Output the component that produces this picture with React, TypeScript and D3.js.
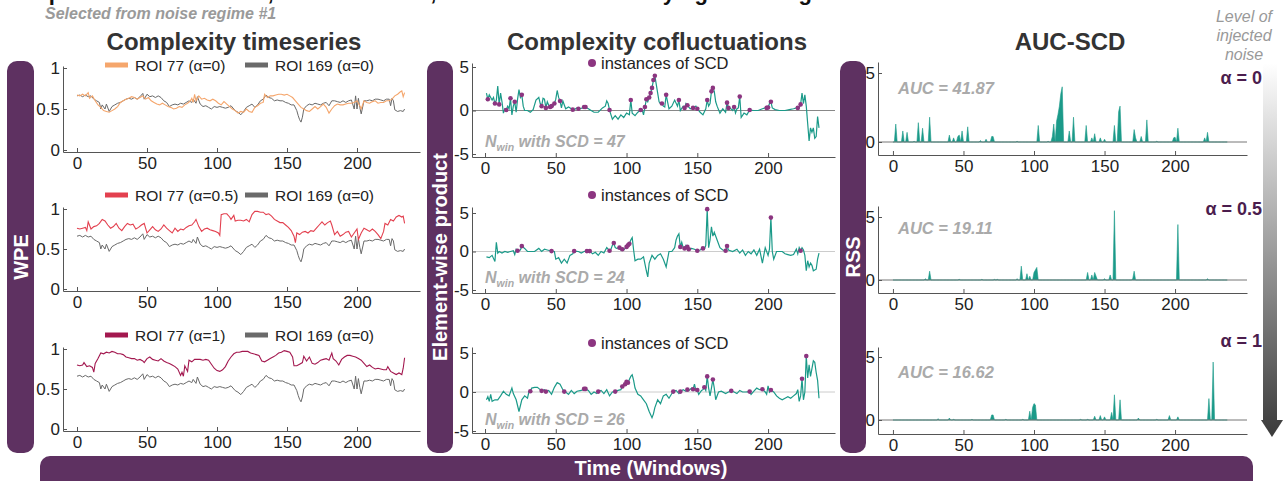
import * as d3 from "d3";
import { useEffect, useRef } from "react";

type Pt = [number, number];

// ---- data (window, value) ----
const roi169: Pt[] = [[0,0.66],[2,0.67],[4,0.65],[6,0.67],[8,0.65],[10,0.66],[12,0.62],[14,0.6],[16,0.58],[17,0.5],[18,0.55],[20,0.5],[21,0.56],[23,0.47],[25,0.53],[27,0.55],[29,0.57],[31,0.58],[33,0.6],[35,0.62],[37,0.63],[39,0.62],[41,0.64],[43,0.62],[45,0.65],[47,0.69],[48,0.62],[50,0.68],[52,0.65],[54,0.66],[56,0.64],[58,0.66],[60,0.64],[62,0.6],[64,0.58],[66,0.53],[68,0.55],[70,0.56],[72,0.55],[74,0.57],[76,0.56],[78,0.58],[80,0.6],[82,0.58],[83,0.62],[85,0.57],[86,0.65],[88,0.56],[90,0.53],[92,0.54],[94,0.52],[96,0.5],[98,0.53],[100,0.52],[102,0.53],[104,0.52],[106,0.51],[108,0.52],[110,0.54],[112,0.5],[113,0.48],[115,0.46],[117,0.43],[119,0.47],[121,0.52],[123,0.54],[125,0.56],[127,0.52],[129,0.55],[131,0.6],[133,0.62],[135,0.67],[137,0.64],[139,0.63],[141,0.6],[143,0.61],[145,0.6],[147,0.6],[149,0.58],[151,0.57],[153,0.55],[155,0.55],[157,0.48],[158,0.42],[159,0.37],[160,0.34],[161,0.4],[162,0.5],[164,0.54],[166,0.56],[168,0.55],[170,0.57],[172,0.56],[174,0.55],[176,0.57],[178,0.58],[180,0.54],[182,0.6],[184,0.6],[186,0.59],[188,0.58],[190,0.6],[192,0.58],[194,0.6],[196,0.61],[198,0.5],[199,0.66],[200,0.5],[201,0.63],[202,0.52],[203,0.44],[205,0.6],[207,0.6],[209,0.61],[211,0.6],[213,0.62],[215,0.62],[217,0.61],[219,0.6],[221,0.62],[223,0.62],[224,0.54],[225,0.63],[226,0.6],[227,0.49],[229,0.47],[231,0.48],[233,0.47],[234,0.5]];

const roi77a0: Pt[] = [[0,0.67],[2,0.66],[4,0.68],[6,0.66],[8,0.7],[9,0.63],[11,0.66],[13,0.6],[15,0.55],[17,0.52],[19,0.48],[21,0.47],[23,0.46],[25,0.48],[27,0.5],[29,0.53],[31,0.58],[33,0.6],[35,0.62],[37,0.63],[39,0.65],[41,0.64],[43,0.62],[45,0.64],[47,0.66],[49,0.62],[51,0.64],[53,0.6],[55,0.58],[57,0.56],[59,0.55],[61,0.57],[63,0.55],[65,0.53],[67,0.52],[69,0.5],[71,0.51],[73,0.53],[75,0.52],[77,0.55],[79,0.57],[81,0.6],[82,0.63],[83,0.58],[84,0.68],[85,0.6],[87,0.66],[89,0.62],[91,0.63],[93,0.61],[95,0.6],[97,0.62],[99,0.6],[101,0.57],[103,0.55],[105,0.59],[107,0.56],[109,0.53],[111,0.5],[113,0.48],[115,0.45],[117,0.47],[119,0.46],[121,0.5],[123,0.47],[125,0.46],[127,0.52],[129,0.54],[131,0.57],[133,0.58],[134,0.68],[136,0.64],[138,0.66],[140,0.66],[142,0.67],[144,0.68],[146,0.68],[148,0.67],[150,0.68],[152,0.66],[154,0.64],[156,0.6],[158,0.56],[160,0.52],[162,0.5],[164,0.48],[166,0.47],[168,0.5],[170,0.53],[172,0.5],[174,0.53],[176,0.56],[178,0.52],[180,0.45],[182,0.5],[184,0.54],[186,0.56],[188,0.55],[190,0.55],[192,0.56],[194,0.57],[196,0.57],[198,0.58],[200,0.6],[202,0.54],[203,0.5],[205,0.6],[207,0.58],[209,0.57],[211,0.59],[213,0.6],[215,0.57],[217,0.58],[219,0.58],[221,0.6],[223,0.6],[225,0.62],[227,0.66],[229,0.68],[231,0.71],[232,0.72],[233,0.65],[234,0.7]];

const roi77a05: Pt[] = [[0,0.76],[2,0.75],[4,0.76],[6,0.77],[7,0.73],[8,0.84],[10,0.75],[12,0.78],[14,0.79],[16,0.82],[18,0.87],[20,0.85],[22,0.8],[24,0.76],[26,0.78],[28,0.82],[30,0.76],[32,0.73],[34,0.78],[36,0.82],[38,0.8],[40,0.81],[42,0.75],[44,0.77],[46,0.8],[48,0.82],[50,0.7],[52,0.74],[54,0.78],[56,0.74],[58,0.72],[60,0.75],[62,0.8],[64,0.76],[66,0.73],[68,0.7],[70,0.76],[72,0.72],[74,0.75],[76,0.74],[78,0.77],[80,0.79],[82,0.8],[84,0.84],[85,0.87],[87,0.78],[89,0.72],[91,0.75],[93,0.76],[95,0.74],[97,0.73],[99,0.72],[101,0.7],[102,0.67],[103,0.93],[105,0.94],[107,0.94],[109,0.9],[110,0.87],[112,0.92],[113,0.85],[115,0.86],[117,0.86],[119,0.85],[121,0.87],[123,0.84],[125,0.93],[127,0.97],[129,0.97],[131,0.96],[133,0.96],[135,0.93],[137,0.94],[139,0.91],[141,0.87],[143,0.85],[145,0.83],[147,0.83],[149,0.8],[151,0.77],[153,0.73],[155,0.66],[156,0.58],[157,0.7],[159,0.68],[161,0.71],[163,0.72],[165,0.7],[167,0.73],[169,0.72],[171,0.76],[173,0.8],[175,0.84],[177,0.8],[179,0.83],[181,0.85],[182,0.8],[184,0.68],[186,0.72],[188,0.66],[190,0.68],[192,0.71],[194,0.72],[196,0.65],[198,0.7],[200,0.75],[201,0.62],[203,0.7],[205,0.76],[207,0.74],[209,0.72],[211,0.75],[213,0.72],[215,0.68],[217,0.63],[219,0.72],[220,0.82],[222,0.8],[224,0.87],[226,0.85],[228,0.9],[230,0.92],[232,0.9],[233,0.91],[234,0.82]];

const roi77a1: Pt[] = [[0,0.8],[2,0.79],[4,0.8],[5,0.83],[7,0.78],[9,0.79],[11,0.77],[12,0.71],[13,0.82],[15,0.88],[17,0.95],[19,0.94],[21,0.96],[23,0.95],[25,0.97],[27,0.96],[29,0.94],[31,0.94],[33,0.93],[35,0.9],[37,0.89],[39,0.88],[41,0.88],[43,0.86],[45,0.87],[47,0.85],[48,0.83],[50,0.88],[52,0.9],[54,0.87],[56,0.86],[58,0.85],[60,0.88],[62,0.85],[64,0.83],[66,0.82],[68,0.8],[70,0.78],[72,0.75],[74,0.67],[75,0.71],[76,0.66],[77,0.79],[79,0.72],[80,0.86],[82,0.84],[84,0.87],[86,0.87],[88,0.87],[90,0.86],[92,0.87],[94,0.86],[96,0.81],[98,0.76],[100,0.73],[102,0.72],[104,0.74],[106,0.78],[108,0.85],[110,0.9],[112,0.94],[114,0.96],[116,0.96],[118,0.97],[120,0.97],[122,0.97],[124,0.95],[126,0.94],[128,0.93],[130,0.92],[132,0.85],[134,0.84],[136,0.86],[138,0.88],[140,0.9],[142,0.92],[144,0.95],[146,0.96],[148,0.98],[150,0.97],[152,0.96],[154,0.9],[155,0.79],[157,0.79],[159,0.81],[161,0.83],[162,0.91],[164,0.85],[166,0.9],[168,0.82],[170,0.81],[172,0.83],[174,0.86],[176,0.87],[178,0.88],[180,0.86],[182,0.95],[183,0.88],[185,0.85],[187,0.8],[189,0.87],[191,0.9],[193,0.92],[195,0.92],[197,0.91],[199,0.9],[201,0.88],[203,0.86],[205,0.82],[207,0.78],[209,0.8],[211,0.77],[213,0.75],[215,0.76],[217,0.75],[219,0.74],[221,0.74],[222,0.78],[224,0.72],[226,0.7],[228,0.68],[230,0.7],[232,0.68],[233,0.76],[234,0.89]];

// element-wise product (points between SCD instances)
const prodA0: Pt[] = [[1,2.0],[3,1.8],[4,1.5],[5,1.2],[6,1.5],[8,1.2],[9,2.8],[11,2.0],[12,1.0],[13,-0.3],[14,0.2],[16,0.5],[17,0.2],[19,-0.5],[20,0.5],[22,-0.2],[23,1.3],[24,2.4],[25,1.5],[27,0.5],[28,0],[30,0],[32,-0.2],[34,0.1],[36,1.2],[38,1.5],[39,0.8],[41,1.4],[42,1.3],[44,1.0],[45,0.6],[48,0.5],[50,1.3],[51,2.3],[52,1.5],[54,0.3],[55,1.1],[57,0.2],[59,0.4],[61,0.2],[63,0.1],[65,0.3],[67,0.2],[69,0.3],[73,0.2],[75,0],[77,-0.2],[80,-0.2],[83,0.3],[85,0.5],[86,1.1],[87,0.8],[89,-0.5],[90,-1.0],[92,-0.6],[94,-1.0],[96,-0.5],[98,-0.8],[100,-0.3],[102,-0.5],[104,-0.3],[106,-0.6],[108,-0.2],[111,0.1],[112,-0.5],[115,1.0],[121,3.0],[122,2.0],[123,1.0],[124,0.8],[126,0.5],[127,0.4],[129,1.0],[130,0.2],[132,0.5],[134,1.2],[136,0.5],[138,0],[140,0.5],[142,0.8],[145,0.2],[149,0.5],[152,-0.2],[154,-0.5],[156,0.2],[158,0.5],[159,0.8],[162,2.2],[163,1.0],[164,0.5],[166,-0.3],[168,0.2],[170,-0.2],[173,0.3],[175,0],[177,-0.3],[178,0.2],[179,0.3],[181,-0.8],[183,-0.3],[185,-0.5],[190,0],[193,0],[196,0.2],[198,0.3],[201,0.8],[203,0.3],[205,0.1],[208,0],[212,0],[215,0.1],[218,0.2],[220,0.3],[222,0.3],[224,2.0],[225,0.8],[226,1.8],[227,0.5],[228,-1.5],[229,-3.5],[230,-2.0],[231,-2.5],[232,-2.0],[233,-3.2],[234,-3.0],[235,-0.7],[236,-2.0]];
const scdA0: Pt[] = [[2,1.3],[7,0.8],[10,0.7],[15,0.05],[18,1.4],[21,1.0],[26,1.8],[40,0.5],[43,0.3],[46,0.4],[47,0.5],[49,0.8],[53,1.1],[62,0.1],[66,0.2],[70,0.4],[71,0.4],[88,0.05],[103,1.2],[110,0.05],[113,0.4],[114,1.3],[116,1.5],[117,2.0],[118,2.6],[119,3.5],[120,4.0],[125,0.8],[128,1.8],[137,1.2],[141,0.3],[143,0.6],[147,0.3],[150,0.2],[157,1.2],[160,2.2],[161,2.6],[171,0.9],[172,0.3],[176,0.4],[180,1.6],[187,0.05],[199,0.3],[200,0.35],[202,1.0],[221,0.3],[223,0.7]];

const prodA05: Pt[] = [[1,-0.7],[3,-0.8],[5,-0.5],[7,-1.3],[8,1.2],[9,-0.2],[10,0],[12,-0.2],[14,0],[16,-0.1],[18,0],[20,0.1],[21,-0.4],[22,0.3],[25,0.2],[28,0.4],[30,0],[32,0],[35,0],[38,0.4],[40,0],[42,0.3],[44,0.2],[46,0.1],[49,0],[50,-1.0],[52,-0.8],[54,-1.5],[56,-1.0],[58,-1.5],[60,-0.5],[62,-0.3],[66,0],[68,-0.2],[70,0],[76,-0.3],[78,-0.1],[80,-0.5],[82,0],[84,-0.2],[86,0.5],[89,0.3],[90,0.8],[92,0.5],[93,0.4],[96,0.2],[98,0.2],[99,0.4],[103,1.5],[104,1.8],[105,0.2],[106,-1.2],[108,-1.0],[110,-1.0],[112,-0.7],[114,-2.5],[115,-3.3],[116,-1.5],[118,-0.5],[120,-1.0],[122,-0.5],[124,-0.3],[126,-1.0],[128,-2.0],[130,0],[132,0],[134,0.5],[135,1.5],[136,2.0],[137,2.3],[139,1.2],[140,0.5],[142,0.8],[146,0.4],[148,0.3],[152,0.2],[153,0.3],[155,0.3],[156,0.8],[158,0.5],[159,1.5],[160,3.2],[161,2.0],[162,2.5],[164,1.5],[166,0.5],[168,0.2],[172,0.2],[175,0],[178,0.3],[180,-0.2],[182,0.2],[184,-0.5],[186,0],[188,-0.3],[190,0.2],[192,-0.5],[194,0.3],[196,-1.5],[198,0.5],[200,-0.5],[201,0.3],[203,0],[204,-1.0],[206,0],[208,0],[210,0],[212,-0.3],[214,-0.4],[216,-0.5],[218,-0.4],[220,0.3],[221,-0.3],[222,0.5],[224,0.5],[225,0.2],[226,-0.5],[227,-2.5],[228,-1.2],[229,-2.0],[230,-1.5],[231,-1.8],[232,-2.5],[234,-2.3],[235,-1.0],[236,-0.2]];
const scdA05: Pt[] = [[23,0.1],[26,0.7],[47,0.05],[63,0.05],[72,0.05],[74,0.05],[88,0.1],[91,1.1],[95,0.5],[97,0.3],[100,0.6],[101,0.8],[102,1.0],[138,0.6],[141,0.4],[143,0.6],[144,0.3],[150,0.1],[154,0.4],[157,5.5],[170,0.1],[171,0.7],[202,4.4],[223,0.1]];

const prodA1: Pt[] = [[1,-1.0],[2,-0.6],[3,-1.2],[4,-0.3],[5,-1.2],[7,-1.0],[9,-1.0],[11,-0.5],[13,0.1],[15,-0.3],[17,-0.5],[19,0.5],[20,-0.2],[22,-1.0],[24,-2.5],[26,-1.0],[28,-0.5],[30,-0.8],[31,0],[33,0.5],[35,0.6],[37,0.6],[39,0.3],[42,0.3],[45,0.2],[47,-0.3],[49,0.6],[51,1.2],[53,1.0],[55,0.3],[57,0],[59,-0.3],[61,0.2],[63,-0.2],[65,0.1],[68,0.2],[73,0.2],[75,-0.3],[77,0],[79,-0.2],[82,0.2],[84,-0.2],[86,0.3],[88,-0.5],[90,0],[94,0.2],[96,0.3],[98,0.8],[102,1.6],[103,2.0],[104,2.2],[105,1.5],[106,0.5],[108,-0.3],[110,-0.5],[112,-1.0],[114,-1.5],[116,-2.5],[118,-3.3],[119,-2.8],[120,-2.0],[122,-1.0],[124,-1.5],[126,-0.5],[128,-0.3],[130,-0.8],[132,-0.2],[135,0.2],[137,-0.2],[140,0.3],[142,0.1],[144,0.2],[146,0.5],[148,1.0],[149,0.2],[151,-0.3],[153,0.2],[154,0.3],[156,0.2],[158,0.5],[159,-0.5],[160,0.5],[162,0.5],[163,-1.0],[165,0],[167,0.1],[170,-0.2],[172,0],[176,0],[178,-0.2],[180,0.2],[182,0],[184,0],[188,-0.3],[190,0.1],[192,0.5],[194,0.3],[198,0],[199,-0.3],[200,0.8],[201,0],[204,0],[206,-0.5],[208,-0.8],[210,-1.0],[212,-0.8],[214,-0.6],[216,-0.8],[218,-0.5],[220,-0.2],[221,0.3],[222,-1.2],[223,-0.5],[225,-1.0],[226,0],[228,1.8],[229,3.5],[230,2.0],[231,3.0],[232,4.0],[233,3.8],[234,2.5],[235,1.5],[236,-0.8]];
const scdA1: Pt[] = [[32,0.1],[40,0.15],[43,0.05],[56,0.05],[70,0.4],[71,0.4],[80,0.05],[92,0.05],[97,0.7],[99,1.0],[100,1.3],[101,1.2],[133,0.05],[138,0.05],[143,0.3],[147,0.35],[150,0.25],[155,0.6],[157,2.0],[161,1.6],[174,0.15],[187,0.05],[196,0.35],[202,0.25],[224,1.7],[227,4.6]];

const xTicks = [0, 50, 100, 150, 200];
const wpeTicks = [0, 0.5, 1];
const prodTicks = [-5, 0, 5];
const rssTicks = [0, 5];
const roi77Series = [roi77a0, roi77a05, roi77a1];
const roi77Colors = ["#f5a66c", "#e3404f", "#a3184f"];
const roi77Labels = ["ROI 77 (α=0)", "ROI 77 (α=0.5)", "ROI 77 (α=1)"];
const prodSeries = [prodA0, prodA05, prodA1];
const scdSeries = [scdA0, scdA05, scdA1];
const nwinLabels = ["47", "24", "26"];
const aucLabels = ["41.87", "19.11", "16.62"];
const alphaLabels = ["0", "0.5", "1"];

const FONT = "'Liberation Sans', Arial, Helvetica, sans-serif";
const PURPLE = "#5e3161";
const TEAL = "#1b9a89";
const DOT = "#8c3580";

const Axis = ({ scale, orient, x, y, ticks }: any) => {
    const ref = useRef<SVGGElement>(null);
    useEffect(() => {
        const ax = orient === "bottom" ? d3.axisBottom(scale) : d3.axisLeft(scale);
        ax.tickValues(ticks)
            .tickSizeInner(-4)
            .tickSizeOuter(0)
            .tickPadding(orient === "bottom" ? 5 : 3)
            .tickFormat((d: any) => String(d));
        const g = d3.select(ref.current);
        g.call(ax as any);
        g.attr("font-size", null).attr("font-family", null);
        g.selectAll("text").attr("font-size", 17).attr("font-family", FONT).attr("fill", "#222");
        g.selectAll("line").attr("stroke", "#555");
        g.select(".domain").attr("stroke", "#555");
    });
    return <g ref={ref} transform={`translate(${x},${y})`} />;
};

// left column: WPE
const leftRows = [
    { zero: 150, one: 68, axisY: 152, top: 66, legY: 65 },
    { zero: 289, one: 209, axisY: 291, top: 207, legY: 195 },
    { zero: 429, one: 349, axisY: 431, top: 347, legY: 335 },
];
const xLeft = d3.scaleLinear().domain([-10, 245]).range([63, 420]);

const WpePanel = ({ i }: { i: number }) => {
    const r = leftRows[i];
    const y = d3.scaleLinear().domain([0, 1]).range([r.zero, r.one]);
    const yAx = d3.scaleLinear().domain([y.invert(r.axisY), y.invert(r.top)]).range([r.axisY, r.top]);
    const line = d3.line<Pt>().x(d => xLeft(d[0])).y(d => y(d[1]));
    return (
        <g>
            <path d={line(roi169) || ""} fill="none" stroke="#6a6a6a" strokeWidth={1} />
            <path d={line(roi77Series[i]) || ""} fill="none" stroke={roi77Colors[i]} strokeWidth={1.1} />
            <Axis scale={xLeft} orient="bottom" x={0} y={r.axisY} ticks={xTicks} />
            <Axis scale={yAx} orient="left" x={63} y={0} ticks={wpeTicks} />
            <line x1={105} x2={128} y1={r.legY} y2={r.legY} stroke={roi77Colors[i]} strokeWidth={5} />
            <text x={135} y={r.legY + 6} fontSize={15.5} fill="#222">{roi77Labels[i]}</text>
            <line x1={245} x2={268} y1={r.legY} y2={r.legY} stroke="#6a6a6a" strokeWidth={5} />
            <text x={275} y={r.legY + 6} fontSize={15.5} fill="#222">ROI 169 (α=0)</text>
        </g>
    );
};

// middle column: element-wise product
const midRows = [
    { p5: 67, m5: 154, axisY: 157, top: 63, legY: 63, nY: 141, zc: "#888" },
    { p5: 213, m5: 290, axisY: 293, top: 207, legY: 195, nY: 277, zc: "#ccc" },
    { p5: 353, m5: 431, axisY: 433, top: 347, legY: 343, nY: 419, zc: "#ccc" },
];
const xMid = d3.scaleLinear().domain([-9.2, 247.3]).range([472, 835]);

const ProdPanel = ({ i }: { i: number }) => {
    const r = midRows[i];
    const y = d3.scaleLinear().domain([-5, 5]).range([r.m5, r.p5]);
    const yAx = d3.scaleLinear().domain([y.invert(r.axisY), y.invert(r.top)]).range([r.axisY, r.top]);
    const scd = scdSeries[i];
    const scdX = new Set(scd.map(d => d[0]));
    const pts = prodSeries[i].filter(d => !scdX.has(d[0])).concat(scd).sort((a, b) => a[0] - b[0]);
    const line = d3.line<Pt>().x(d => xMid(d[0])).y(d => y(d[1]));
    return (
        <g>
            <line x1={472} x2={835} y1={y(0)} y2={y(0)} stroke={r.zc} strokeWidth={1} />
            <path d={line(pts) || ""} fill="none" stroke={TEAL} strokeWidth={1.2} />
            {scd.map((d, k) => <circle key={k} cx={xMid(d[0])} cy={y(d[1])} r={2.3} fill={DOT} />)}
            <Axis scale={xMid} orient="bottom" x={0} y={r.axisY} ticks={xTicks} />
            <Axis scale={yAx} orient="left" x={472} y={0} ticks={prodTicks} />
            <circle cx={592} cy={r.legY} r={4} fill={DOT} />
            <text x={601} y={r.legY + 6} fontSize={16.5} fill="#222">instances of SCD</text>
            <text x={485} y={r.nY + 6} fontSize={16} fontWeight="bold" fontStyle="italic" fill="#aaa">
                N<tspan fontSize={10.5} dy={4}>win</tspan><tspan dy={-4}> with SCD = {nwinLabels[i]}</tspan>
            </text>
        </g>
    );
};

// right column: RSS / AUC-SCD
const rightRows = [
    { p5: 73, zero: 142, axisY: 155, top: 62, aucY: 88, aY: 78 },
    { p5: 217, zero: 280, axisY: 293, top: 206, aucY: 228, aY: 209 },
    { p5: 357, zero: 420, axisY: 434, top: 347, aucY: 372, aY: 341 },
];
const xRight = d3.scaleLinear().domain([-10.6, 251]).range([878, 1247]);

const RssPanel = ({ i }: { i: number }) => {
    const r = rightRows[i];
    const y = d3.scaleLinear().domain([0, 5]).range([r.zero, r.p5]);
    const yAx = d3.scaleLinear().domain([y.invert(r.axisY), y.invert(r.top)]).range([r.axisY, r.top]);
    const scdMap = new Map(scdSeries[i]);
    const rss: Pt[] = d3.range(0, 238).map(w => [w, scdMap.get(w) ?? 0]);
    const area = d3.area<Pt>().x(d => xRight(d[0])).y0(y(0)).y1(d => y(d[1]));
    return (
        <g>
            <path d={area(rss) || ""} fill={TEAL} stroke={TEAL} strokeWidth={0.6} />
            <line x1={878} x2={1247} y1={y(0)} y2={y(0)} stroke="#777" strokeWidth={1} />
            <Axis scale={xRight} orient="bottom" x={0} y={r.axisY} ticks={xTicks} />
            <Axis scale={yAx} orient="left" x={878} y={0} ticks={rssTicks} />
            <text x={898} y={r.aucY + 6} fontSize={16.5} fontWeight="bold" fontStyle="italic" fill="#aaa">
                AUC = {aucLabels[i]}
            </text>
            <text x={1262} y={r.aY + 6} fontSize={18} fontWeight="bold" fill="#4b1d4e" textAnchor="end">
                α = {alphaLabels[i]}
            </text>
        </g>
    );
};

const App = () => {
    return (
        <svg width={1283} height={481} fontFamily={FONT}
            style={{ position: "absolute", left: 0, top: 0, background: "#fff" }}>
            <defs>
                <linearGradient id="noiseGrad" gradientUnits="userSpaceOnUse" x1={0} y1={63} x2={0} y2={437}>
                    <stop offset="0" stopColor="#ffffff" />
                    <stop offset="1" stopColor="#3a3a3a" />
                </linearGradient>
            </defs>

            {/* headline cut off at the very top of the figure */}
            <text x={-10} y={0} fontSize={22} fontWeight="bold" fill="#111">
                Example of ROI timeseries, SCD detection, and AUC-SCD for varying noise regimes
            </text>
            <text x={45} y={19} fontSize={16} fontWeight="bold" fontStyle="italic" fill="#9a9a9a">
                Selected from noise regime #1
            </text>

            <text x={234} y={50} fontSize={24} fontWeight="bold" fill="#333" textAnchor="middle">Complexity timeseries</text>
            <text x={657} y={50} fontSize={24} fontWeight="bold" fill="#333" textAnchor="middle">Complexity cofluctuations</text>
            <text x={1070} y={50} fontSize={24} fontWeight="bold" fill="#333" textAnchor="middle">AUC-SCD</text>

            <g fontSize={16} fontStyle="italic" fill="#999" textAnchor="middle">
                <text x={1244} y={22}>Level of</text>
                <text x={1244} y={41}>injected</text>
                <text x={1244} y={60}>noise</text>
            </g>
            <rect x={1263} y={64} width={14} height={357} fill="url(#noiseGrad)" />
            <polygon points="1261,420 1283,420 1272,437" fill="url(#noiseGrad)" />

            {/* purple label bars */}
            <rect x={7} y={61} width={27} height={392} rx={10} fill={PURPLE} />
            <rect x={427} y={61} width={26} height={392} rx={10} fill={PURPLE} />
            <rect x={840} y={61} width={26} height={392} rx={10} fill={PURPLE} />
            <rect x={40} y={456} width={1213} height={40} rx={10} fill={PURPLE} />
            <text transform="translate(28,257) rotate(-90)" fontSize={20} fontWeight="bold" fill="#fff" textAnchor="middle">WPE</text>
            <text transform="translate(447,257) rotate(-90)" fontSize={20} fontWeight="bold" fill="#fff" textAnchor="middle">Element-wise product</text>
            <text transform="translate(860,257) rotate(-90)" fontSize={20} fontWeight="bold" fill="#fff" textAnchor="middle">RSS</text>
            <text x={651} y={475} fontSize={20} fontWeight="bold" fill="#fff" textAnchor="middle">Time (Windows)</text>

            {[0, 1, 2].map(i => <WpePanel key={"w" + i} i={i} />)}
            {[0, 1, 2].map(i => <ProdPanel key={"p" + i} i={i} />)}
            {[0, 1, 2].map(i => <RssPanel key={"r" + i} i={i} />)}
        </svg>
    );
};

export default App;
